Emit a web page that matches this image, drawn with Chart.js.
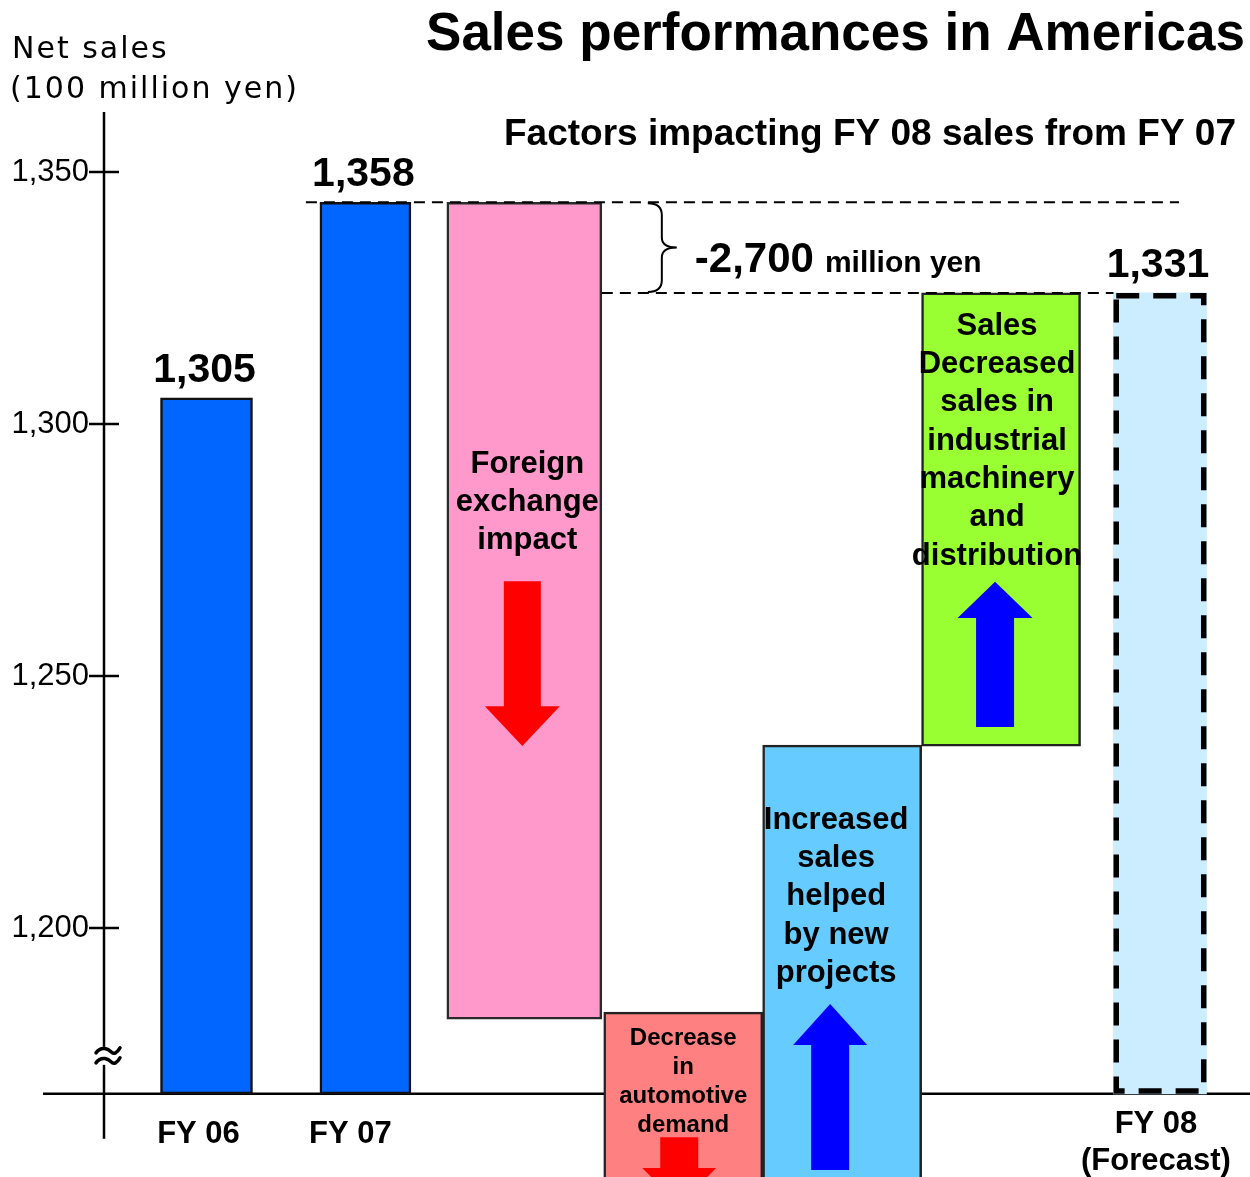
<!DOCTYPE html>
<html>
<head>
<meta charset="utf-8">
<script src="https://cdn.jsdelivr.net/npm/chart.js@4.4.1/dist/chart.umd.min.js"></script>
<style>
  html, body { margin: 0; padding: 0; background: #fff; overflow: hidden; }
  #wrap { width: 1250px; height: 1177px; position: relative; }
</style>
</head>
<body>
<div id="wrap"><canvas id="c"></canvas></div>
<script>
// ---------- data ----------
const categories = ['FY 06', 'FY 07', 'Foreign exchange', 'Automotive', 'New projects', 'Industrial machinery', 'FY 08'];
const barLow  = [1167.1, 1167.1, 1181.9, 1140.0, 1140.0, 1236.1, 1167.1];
const barHigh = [1305.2, 1344.0, 1344.0, 1183.3, 1236.3, 1326.0, 1326.0];
const valueLabels = ['1,305', '1,358', '', '', '', '', '1,331'];
const xTickLabels = [['FY 06'], ['FY 07'], [], [], [], [], ['FY 08', '(Forecast)']];
const yTickValues = [1200, 1250, 1300, 1350];
const yTickLabels = ['1,200', '1,250', '1,300', '1,350'];
const barTexts = [
  [], [],
  ['Foreign', 'exchange', 'impact'],
  ['Decrease', 'in', 'automotive', 'demand'],
  ['Increased', 'sales', 'helped', 'by new', 'projects'],
  ['Sales', 'Decreased', 'sales in', 'industrial', 'machinery', 'and', 'distribution'],
  []
];
const axisBase = 1167.1;
const changeText = '-2,700';
const changeUnit = 'million yen';

// ---------- styles ----------
const barColors  = ['#0066FF', '#0066FF', '#FF99CC', '#FF8080', '#66CCFF', '#99FF33', '#CCECFF'];
const barBorders = ['#111111', '#111111', '#2a2a2a', '#222222', '#222222', '#222222', '#000000'];
const barWidths  = [92, 91, 155, 159, 159, 159, 93];
const xLabelDx   = [-8, -15, 0, 0, 0, 0, -4];
const textStyles = [
  null, null,
  { dx: 3,  first: 1291.9, lh: 38,   size: 31 },
  { dx: 0,  first: 1178.2, lh: 29,   size: 24 },
  { dx: -6, first: 1221.4, lh: 38.3, size: 31 },
  { dx: -4, first: 1319.4, lh: 38.3, size: 31 },
  null
];
const arrows = [
  { bar: 2, color: '#FF0000', dx: -2, shaft: 37, head: 75, from: 1268.8, headAt: 1244.0, to: 1236.1 },
  { bar: 3, color: '#FF0000', dx: -4, shaft: 38, head: 74, from: 1158.5, headAt: 1152.4, to: 1145.0 },
  { bar: 4, color: '#0000FF', dx: -12, shaft: 38, head: 74, from: 1152.0, headAt: 1176.8, to: 1184.9 },
  { bar: 5, color: '#0000FF', dx: -6, shaft: 38, head: 75, from: 1239.9, headAt: 1261.5, to: 1268.7 }
];
const SANS = '"Liberation Sans", Arial, sans-serif';

function barGeom(chart, i) {
  const el = chart.getDatasetMeta(i).data[0];
  const p = el.getProps(['x', 'y', 'base', 'width'], true);
  return { cx: p.x, left: p.x - p.width / 2, right: p.x + p.width / 2,
           top: Math.min(p.y, p.base), bottom: Math.max(p.y, p.base) };
}

const decor = {
  id: 'decor',
  beforeDatasetsDraw(chart) {
    const { ctx, chartArea, scales: { y } } = chart;
    const yb = y.getPixelForValue(axisBase);
    ctx.save();
    ctx.strokeStyle = '#000';
    ctx.lineWidth = 2.5;
    ctx.beginPath();
    ctx.moveTo(43, yb); ctx.lineTo(chart.width, yb);
    ctx.moveTo(chartArea.left, chartArea.top); ctx.lineTo(chartArea.left, yb + 45);
    yTickValues.forEach(v => {
      const py = y.getPixelForValue(v);
      ctx.moveTo(chartArea.left - 15, py); ctx.lineTo(chartArea.left + 15, py);
    });
    ctx.stroke();
    // axis break mark (two waves)
    const pyBreak = yb - 38;
    const bxc = chartArea.left + 4;
    ctx.fillStyle = '#fff';
    ctx.fillRect(chartArea.left - 4, pyBreak - 9, 8, 18);
    ctx.lineWidth = 3.5;
    ctx.lineCap = 'round';
    [-5, 5].forEach(off => {
      const cy = pyBreak + off;
      ctx.beginPath();
      ctx.moveTo(bxc - 12, cy + 2);
      ctx.bezierCurveTo(bxc - 6, cy - 6, bxc + 1, cy - 1, bxc + 3, cy + 1);
      ctx.bezierCurveTo(bxc + 6, cy + 4, bxc + 9, cy + 2, bxc + 12, cy - 3);
      ctx.stroke();
    });
    ctx.restore();
  },
  afterDatasetsDraw(chart) {
    const { ctx, scales: { x, y } } = chart;
    ctx.save();
    const g8 = barGeom(chart, 6);
    ctx.strokeStyle = '#000';
    ctx.lineWidth = 5.5;
    ctx.setLineDash([23, 14]);
    ctx.strokeRect(g8.left + 2.75, g8.top + 2.75, g8.right - g8.left - 5.5, g8.bottom - g8.top - 5.5);

    const g7 = barGeom(chart, 1);
    const gF = barGeom(chart, 2);
    ctx.lineWidth = 2;
    ctx.setLineDash([11, 7]);
    ctx.beginPath();
    ctx.moveTo(g7.left - 14, g7.top); ctx.lineTo(g8.cx + 19, g7.top);
    ctx.moveTo(gF.right, g8.top); ctx.lineTo(g8.left, g8.top);
    ctx.stroke();
    ctx.setLineDash([]);

    const bx0 = gF.right + 46, bx1 = gF.right + 60, bx2 = gF.right + 75;
    const t = g7.top + 1, b = g8.top - 1, m = (t + b) / 2;
    ctx.lineWidth = 2;
    ctx.beginPath();
    ctx.moveTo(bx0, t);
    ctx.quadraticCurveTo(bx1, t, bx1, t + 12);
    ctx.lineTo(bx1, m - 10);
    ctx.quadraticCurveTo(bx1, m, bx2, m);
    ctx.quadraticCurveTo(bx1, m, bx1, m + 10);
    ctx.lineTo(bx1, b - 12);
    ctx.quadraticCurveTo(bx1, b, bx0, b);
    ctx.stroke();

    ctx.fillStyle = '#000';
    ctx.textBaseline = 'alphabetic';
    ctx.textAlign = 'left';
    ctx.font = 'bold 42px ' + SANS;
    const tx = gF.right + 93, ty = m + 24;
    ctx.fillText(changeText, tx, ty);
    const w = ctx.measureText(changeText).width;
    ctx.font = 'bold 30px ' + SANS;
    ctx.fillText(changeUnit, tx + w + 11, ty);

    arrows.forEach(a => {
      const g = barGeom(chart, a.bar);
      const cx = g.cx + a.dx;
      const pFrom = y.getPixelForValue(a.from), pHead = y.getPixelForValue(a.headAt), pTo = y.getPixelForValue(a.to);
      ctx.fillStyle = a.color;
      ctx.beginPath();
      ctx.moveTo(cx - a.shaft / 2, pFrom);
      ctx.lineTo(cx - a.shaft / 2, pHead);
      ctx.lineTo(cx - a.head / 2, pHead);
      ctx.lineTo(cx, pTo);
      ctx.lineTo(cx + a.head / 2, pHead);
      ctx.lineTo(cx + a.shaft / 2, pHead);
      ctx.lineTo(cx + a.shaft / 2, pFrom);
      ctx.closePath();
      ctx.fill();
    });

    ctx.fillStyle = '#000';
    ctx.textAlign = 'center';
    ctx.textBaseline = 'middle';
    barTexts.forEach((lines, i) => {
      const st = textStyles[i];
      if (!st || !lines.length) return;
      const g = barGeom(chart, i);
      ctx.font = 'bold ' + st.size + 'px ' + SANS;
      const y0 = y.getPixelForValue(st.first);
      lines.forEach((ln, k) => ctx.fillText(ln, g.cx + st.dx, y0 + k * st.lh));
    });

    ctx.font = 'bold 41px ' + SANS;
    ctx.textBaseline = 'alphabetic';
    valueLabels.forEach((lab, i) => {
      if (!lab) return;
      const g = barGeom(chart, i);
      ctx.fillText(lab, g.cx - 2, g.top - 16);
    });

    const yb = y.getPixelForValue(axisBase);
    ctx.font = 'bold 31px ' + SANS;
    ctx.textBaseline = 'middle';
    xTickLabels.forEach((lines, i) => {
      if (!lines.length) return;
      const cx = x.getPixelForValue(i) + xLabelDx[i];
      const start = lines.length > 1 ? yb + 31 : yb + 41;
      lines.forEach((ln, k) => ctx.fillText(ln, cx, start + k * 37));
    });
    ctx.restore();
  },
  afterDraw(chart) {
    const { ctx } = chart;
    ctx.save();
    ctx.fillStyle = '#000';
    ctx.textAlign = 'left';
    ctx.textBaseline = 'middle';
    ctx.font = '30px "DejaVu Sans"';
    try { ctx.letterSpacing = '2px'; } catch (e) {}
    ctx.fillText('Net sales', 12, 50);
    ctx.fillText('(100 million yen)', 10, 90);
    try { ctx.letterSpacing = '0px'; } catch (e) {}
    ctx.textAlign = 'right';
    ctx.font = 'bold 37px ' + SANS;
    ctx.fillText('Factors impacting FY 08 sales from FY 07', 1236, 135);
    ctx.restore();
  }
};

const datasets = categories.map((c, i) => ({
  label: c,
  data: [{ x: i, y: [barLow[i], barHigh[i]] }],
  backgroundColor: barColors[i],
  borderColor: barBorders[i],
  borderWidth: i === 6 ? 0 : 2.5,
  borderSkipped: false,
  barThickness: barWidths[i],
  grouped: false
}));

new Chart(document.getElementById('c'), {
  type: 'bar',
  data: { datasets },
  options: {
    responsive: true,
    maintainAspectRatio: false,
    animation: false,
    devicePixelRatio: 1,
    layout: { padding: { top: 0, right: 5, bottom: 0, left: 0 } },
    plugins: {
      legend: { display: false },
      tooltip: { enabled: false },
      title: {
        display: true,
        text: 'Sales performances in Americas',
        align: 'end',
        color: '#000',
        font: { size: 53, weight: 'bold', family: SANS, lineHeight: 1.2 },
        padding: { top: 4, bottom: 44.4 }
      }
    },
    scales: {
      x: {
        type: 'linear', min: -0.645, max: 6.535, display: false, offset: false,
        ticks: { stepSize: 1, includeBounds: false },
        grid: { display: false, offset: false },
        afterFit: s => { s.height = 0; s.paddingLeft = 0; s.paddingRight = 0; }
      },
      y: {
        type: 'linear', min: 1150.6, max: 1361.9,
        afterBuildTicks: s => { s.ticks = yTickValues.map(v => ({ value: v })); },
        afterFit: s => { s.width = 104; s.paddingTop = 0; s.paddingBottom = 0; },
        ticks: {
          callback: v => yTickLabels[yTickValues.indexOf(v)],
          font: { size: 31, family: SANS },
          color: '#000',
          padding: 15
        },
        grid: { display: false, drawTicks: false },
        border: { display: false }
      }
    }
  },
  plugins: [decor]
});
</script>
</body>
</html>
